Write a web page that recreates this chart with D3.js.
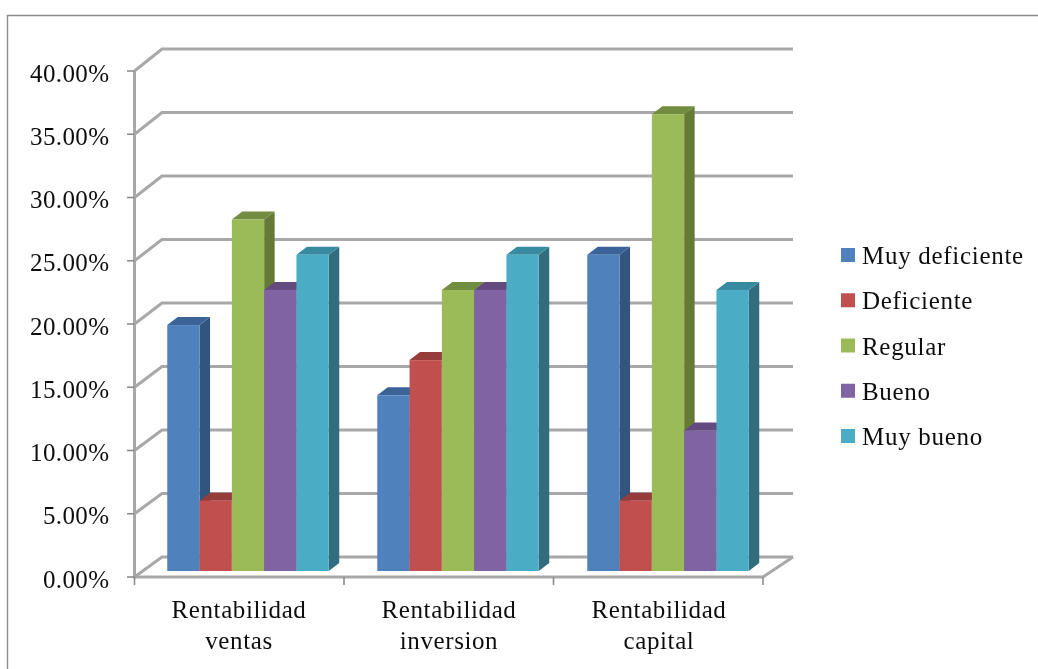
<!DOCTYPE html>
<html>
<head>
<meta charset="utf-8">
<script src="https://cdn.jsdelivr.net/npm/d3@7/dist/d3.min.js"></script>
<style>
html,body{margin:0;padding:0;background:#fff}
svg{display:block}
text{font-family:"Liberation Serif","Times New Roman",serif;fill:#111}
</style>
</head>
<body>
<svg id="chart" width="1038" height="669"></svg>
<script>
const categories = [["Rentabilidad","ventas"],["Rentabilidad","inversion"],["Rentabilidad","capital"]];
const seriesNames = ["Muy deficiente","Deficiente","Regular","Bueno","Muy bueno"];
const muyDeficiente = [19.44,13.89,25.00];
const deficiente = [5.56,16.67,5.56];
const regular = [27.78,22.22,36.11];
const bueno = [22.22,22.22,11.11];
const muyBueno = [25.00,25.00,22.22];
const seriesValues = [muyDeficiente,deficiente,regular,bueno,muyBueno];
const frontColors = ["#4f81bd","#c0504d","#9bbb59","#8064a2","#4bacc6"];
const sideColors = ["#33547f","#7f3432","#667a36","#554270","#306d7e"];
const topColors = ["#3b6497","#963e3b","#728c3f","#644c80","#398aa0"];
const yTicks = [0,5,10,15,20,25,30,35,40];

const svg = d3.select("#chart");
const defs = svg.append("defs");
defs.append("filter").attr("id","soft").attr("x","-5%").attr("y","-5%").attr("width","110%").attr("height","110%")
  .append("feGaussianBlur").attr("stdDeviation",0.65);

const root = svg.append("g").attr("filter","url(#soft)");

// frame
root.append("path").attr("d","M7.5,669V15.5H1038").attr("fill","none").attr("stroke","#8c8c8c").attr("stroke-width",1.4);

const y = d3.scaleLinear().domain([0,40]).range([577,71]);
const yBack = d3.scaleLinear().domain([0,40]).range([557,49]);
const axisLeft = 134.5, axisRight = 763, backLeft = 162, backRight = 793;
const x0 = d3.scaleBand().domain(d3.range(categories.length)).range([axisLeft,764.5]).paddingInner(0.231).paddingOuter(0.1155);
const x1 = d3.scaleBand().domain(d3.range(seriesNames.length)).range([0,x0.bandwidth()]);
const xTick = d3.scaleLinear().domain([0,categories.length]).range([axisLeft,axisRight]);

const barDx = 8.5, barDy = -6;
const sideDx = 10.5, sideDy = -8;
const grid = "#a8a8a8";

// walls
const gridG = root.append("g").attr("fill","none").attr("stroke",grid).attr("stroke-width",3);
gridG.selectAll("path.g").data(yTicks).join("path").attr("class","g")
  .attr("d",t => `M${axisLeft},${y(t)}L${backLeft},${yBack(t)}H${backRight}`);
gridG.append("path").attr("d",`M${axisRight},${y(0)}L${backRight},${yBack(0)}`);
gridG.append("path").attr("d",`M${axisLeft},${y(40)}V${y(0)}H${axisRight}`);

// ticks
const tickG = root.append("g").attr("stroke","#8c8c8c").attr("stroke-width",1.6);
tickG.selectAll("line.y").data(yTicks).join("line").attr("class","y")
  .attr("x1",127).attr("x2",axisLeft).attr("y1",d=>y(d)).attr("y2",d=>y(d));
tickG.selectAll("line.x").data(d3.range(categories.length+1)).join("line").attr("class","x")
  .attr("x1",d=>xTick(d)).attr("x2",d=>xTick(d)).attr("y1",577).attr("y2",585);

// bars
categories.forEach((c,ci) => {
  const g = root.append("g");
  seriesNames.forEach((s,si) => {
    const v = seriesValues[si][ci];
    const l = x0(ci)+x1(si)+barDx, w = x1.bandwidth();
    const r = l+w, t = y(v)+barDy, b = y(0)+barDy;
    g.append("path").attr("fill",sideColors[si])
      .attr("d",`M${r},${t}l${sideDx},${sideDy}V${b+sideDy}L${r},${b}Z`);
    g.append("path").attr("fill",topColors[si])
      .attr("d",`M${l},${t}l${sideDx},${sideDy}H${r+sideDx}L${r},${t}Z`);
    g.append("rect").attr("fill",frontColors[si]).attr("x",l).attr("y",t).attr("width",w).attr("height",b-t);
  });
});

// y labels
root.append("g").selectAll("text").data(yTicks).join("text")
  .attr("x",109.5).attr("y",d=>y(d)+10.5).attr("text-anchor","end")
  .style("font-size","25px").style("letter-spacing","0.4px")
  .text(d=>d3.format(".2f")(d)+"%");

// x labels
const xl = root.append("g").selectAll("text").data(categories).join("text")
  .attr("text-anchor","middle").style("font-size","25px").style("letter-spacing","0.6px");
xl.each(function(c,i){
  const cx = x0(i)+x0.bandwidth()/2-0.5;
  d3.select(this).selectAll("tspan").data(c).join("tspan")
    .attr("x",cx).attr("y",(d,k)=>618+k*31).text(d=>d);
});

// legend
const ly = d3.scalePoint().domain(seriesNames).range([248,429]);
const lg = root.append("g").selectAll("g").data(seriesNames).join("g")
  .attr("transform",d=>`translate(841,${ly(d)})`);
lg.append("rect").attr("width",14).attr("height",14).attr("fill",(d,i)=>frontColors[i]);
lg.append("text").attr("x",21).attr("y",16).style("font-size","25px").style("letter-spacing","0.7px").text(d=>d);
</script>
</body>
</html>
